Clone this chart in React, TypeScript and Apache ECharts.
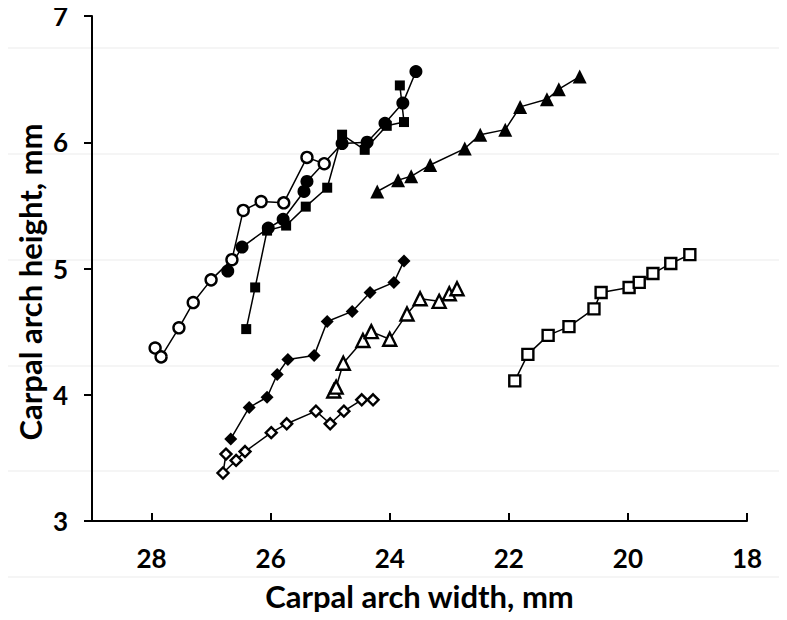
import React, { useEffect, useRef } from "react";
import * as echarts from "echarts";

// Carpal arch width (x, mm) and height (y, mm) for each specimen series
const openCircleX = [27.94, 27.84, 27.54, 27.3, 27.0, 26.65, 26.46, 26.16, 25.78, 25.39, 25.1];
const openCircleY = [4.37, 4.3, 4.53, 4.73, 4.91, 5.07, 5.46, 5.53, 5.52, 5.88, 5.83];

const filledCircleX = [26.72, 26.48, 26.04, 25.79, 25.44, 25.39, 24.8, 24.38, 24.08, 23.78, 23.56];
const filledCircleY = [4.98, 5.17, 5.32, 5.39, 5.61, 5.69, 5.99, 6.0, 6.15, 6.31, 6.56];

const filledSquareX = [26.41, 26.26, 26.06, 25.74, 25.41, 25.05, 24.8, 24.42, 24.05, 23.76, 23.83];
const filledSquareY = [4.52, 4.85, 5.3, 5.34, 5.49, 5.64, 6.06, 5.94, 6.13, 6.16, 6.45];

const filledTriangleX = [24.21, 23.86, 23.64, 23.32, 22.74, 22.48, 22.06, 21.81, 21.36, 21.16, 20.81];
const filledTriangleY = [5.61, 5.7, 5.73, 5.82, 5.95, 6.06, 6.1, 6.28, 6.34, 6.42, 6.52];

const filledDiamondX = [26.67, 26.36, 26.06, 25.89, 25.71, 25.27, 25.05, 24.63, 24.33, 23.93, 23.76];
const filledDiamondY = [3.65, 3.9, 3.98, 4.16, 4.28, 4.31, 4.58, 4.66, 4.81, 4.89, 5.06];

const openDiamondX = [26.75, 26.8, 26.58, 26.43, 25.99, 25.73, 25.24, 25.0, 24.77, 24.47, 24.28];
const openDiamondY = [3.53, 3.38, 3.48, 3.55, 3.7, 3.77, 3.87, 3.77, 3.87, 3.96, 3.96];

const openTriangleX = [24.94, 24.9, 24.78, 24.45, 24.31, 24.0, 23.71, 23.49, 23.17, 23.0, 22.87];
const openTriangleY = [4.03, 4.06, 4.25, 4.43, 4.5, 4.44, 4.64, 4.76, 4.74, 4.8, 4.84];

const openSquareX = [21.9, 21.68, 21.34, 20.99, 20.57, 20.45, 19.98, 19.81, 19.58, 19.28, 18.96];
const openSquareY = [4.11, 4.32, 4.47, 4.54, 4.68, 4.81, 4.85, 4.89, 4.96, 5.04, 5.11];

const xTitle = "Carpal arch width, mm";
const yTitle = "Carpal arch height, mm";

const zip = (xs: number[], ys: number[]) => xs.map((x, i) => [x, ys[i]]);

const FONT = "Lato";

function makeSeries(
  name: string,
  xs: number[],
  ys: number[],
  symbol: string,
  size: number,
  open: boolean
) {
  return {
    name,
    type: "line",
    data: zip(xs, ys),
    symbol,
    symbolSize: size,
    showSymbol: true,
    lineStyle: { color: "#000", width: 1.5 },
    itemStyle: open
      ? { color: "#fff", borderColor: "#000", borderWidth: 2.4 }
      : { color: "#000", borderColor: "#000", borderWidth: 0 },
    emphasis: { disabled: true },
    z: 3,
  };
}

export default function App() {
  const ref = useRef<HTMLDivElement>(null);
  useEffect(() => {
    if (!ref.current) return;
    const chart = echarts.init(ref.current, null, { renderer: "svg" });
    const faintYs = [48, 154, 260, 366, 471, 577];
    chart.setOption({
      animation: false,
      backgroundColor: "#fff",
      graphic: [
        ...faintYs.map((y) => ({
          type: "line",
          z: -10,
          shape: { x1: 0, y1: y, x2: 787, y2: y },
          style: { stroke: "#ececec", lineWidth: 1.2 },
          silent: true,
        })),
        {
          type: "text",
          x: 30,
          y: 282,
          rotation: Math.PI / 2,
          style: {
            text: yTitle,
            fontFamily: FONT,
            fontWeight: "bold",
            fontSize: 31,
            fill: "#000",
            align: "center",
            verticalAlign: "middle",
          },
        },
      ],
      grid: { left: 92, right: 40, top: 16, bottom: 99 },
      xAxis: {
        type: "value",
        inverse: true,
        min: 18,
        max: 29,
        interval: 2,
        name: xTitle,
        nameLocation: "middle",
        nameGap: 59,
        nameTextStyle: { fontFamily: FONT, fontWeight: "bold", fontSize: 31, color: "#000" },
        axisLine: { show: true, lineStyle: { color: "#000", width: 2 } },
        axisTick: { show: true, inside: true, length: 8, lineStyle: { color: "#000", width: 2 } },
        axisLabel: {
          showMaxLabel: false,
          margin: 24,
          fontFamily: FONT,
          fontWeight: "bold",
          fontSize: 26,
          color: "#000",
        },
        splitLine: { show: false },
      },
      yAxis: {
        type: "value",
        min: 3,
        max: 7,
        interval: 1,
        axisLine: { show: true, lineStyle: { color: "#000", width: 2 } },
        axisTick: { show: true, inside: false, length: 8, lineStyle: { color: "#000", width: 2 } },
        axisLabel: {
          margin: 24,
          fontFamily: FONT,
          fontWeight: "bold",
          fontSize: 26,
          color: "#000",
        },
        splitLine: { show: false },
      },
      series: [
        makeSeries("openCircle", openCircleX, openCircleY, "circle", 11, true),
        makeSeries("filledCircle", filledCircleX, filledCircleY, "circle", 13, false),
        makeSeries("filledSquare", filledSquareX, filledSquareY, "rect", 10, false),
        makeSeries("filledTriangle", filledTriangleX, filledTriangleY, "triangle", 14, false),
        makeSeries("filledDiamond", filledDiamondX, filledDiamondY, "diamond", 13, false),
        makeSeries("openDiamond", openDiamondX, openDiamondY, "diamond", 11, true),
        makeSeries("openTriangle", openTriangleX, openTriangleY, "triangle", 13, true),
        makeSeries("openSquare", openSquareX, openSquareY, "rect", 11, true),
      ],
    });
    return () => chart.dispose();
  }, []);
  return <div ref={ref} style={{ width: 787, height: 620, margin: -8 }} />;
}
